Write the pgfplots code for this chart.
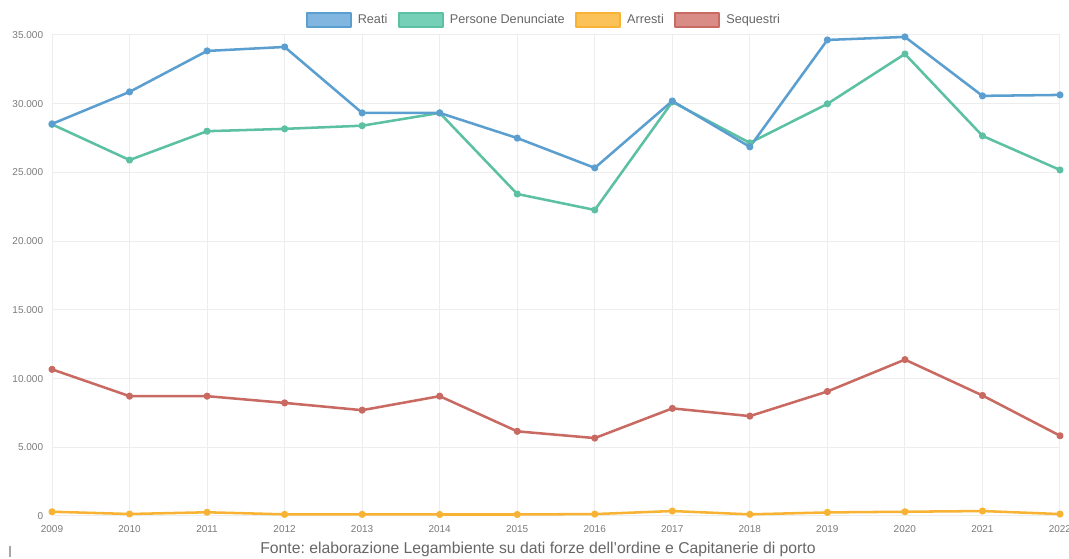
\documentclass[border=0pt]{standalone}
\usepackage{pgfplots}
\pgfplotsset{compat=1.18}
\usepackage{fontspec}
\setmainfont{Liberation Sans}
\frenchspacing

\definecolor{reatiLine}{HTML}{5A9FD0}
\definecolor{reatiFill}{HTML}{80B6E0}
\definecolor{persLine}{HTML}{5CC0A2}
\definecolor{persFill}{HTML}{76D0B8}
\definecolor{arrLine}{HTML}{F8B334}
\definecolor{arrFill}{HTML}{FCC25A}
\definecolor{seqLine}{HTML}{C96A62}
\definecolor{seqFill}{HTML}{D98C86}
\definecolor{gridc}{HTML}{EDEDED}
\definecolor{ticktxt}{HTML}{7A7A7A}
\definecolor{captxt}{HTML}{666666}

% Yearly series (2009-2022)
\newcommand{\reati}{(2009,28530) (2010,30860) (2011,33840) (2012,34130) (2013,29330) (2014,29330) (2015,27500) (2016,25330) (2017,30200) (2018,26860) (2019,34640) (2020,34860) (2021,30570) (2022,30640)}
\newcommand{\persone}{(2009,28500) (2010,25900) (2011,28000) (2012,28170) (2013,28400) (2014,29330) (2015,23430) (2016,22270) (2017,30130) (2018,27150) (2019,29990) (2020,33620) (2021,27660) (2022,25180)}
\newcommand{\arresti}{(2009,310) (2010,145) (2011,270) (2012,120) (2013,120) (2014,110) (2015,110) (2016,140) (2017,360) (2018,120) (2019,260) (2020,310) (2021,360) (2022,140)}
\newcommand{\sequestri}{(2009,10670) (2010,8720) (2011,8720) (2012,8230) (2013,7700) (2014,8720) (2015,6160) (2016,5670) (2017,7830) (2018,7270) (2019,9060) (2020,11380) (2021,8770) (2022,5840)}

\begin{document}
\begin{tikzpicture}
\path[use as bounding box] (0,0) rectangle (801.75pt,419.25pt);
\begin{axis}[
  at={(39pt,32.25pt)}, anchor=south west,
  scale only axis, width=756pt, height=360.75pt,
  xmin=2009, xmax=2022, ymin=0, ymax=35000,
  clip=false,
  xtick={2009,...,2022},
  ytick={0,5000,...,35000},
  scaled y ticks=false,
  /pgf/number format/assume math mode=true,
  yticklabel={\pgfmathprintnumber[1000 sep={.}]{\tick}},
  xticklabel={\pgfmathprintnumber[1000 sep={}]{\tick}},
  yticklabel style={inner sep=0pt, anchor=east, xshift=-6.5pt, font=\fontsize{7.5}{9}\selectfont, text=ticktxt},
  xticklabel style={inner sep=0pt, anchor=north, yshift=-7pt, font=\fontsize{7.5}{9}\selectfont, text=ticktxt},
  major tick length=0pt,
  grid=major, major grid style={gridc, line width=0.75pt},
  axis line style={draw=none},
  reverse legend,
  legend columns=4,
  legend style={at={(0.487,1)}, anchor=center, yshift=11.25pt,
    draw=none, fill=none, inner sep=0pt,
    font=\fontsize{9.5}{11}\selectfont, text=captxt,
    nodes={inner sep=0pt},
    /tikz/every odd column/.append style={column sep=4.5pt},
    /tikz/every even column/.append style={column sep=8pt}},
  every axis plot/.append style={line width=1.9pt, mark=*, mark size=1.7pt, line join=round},
]
\addplot[seqLine, mark options={fill=seqLine, draw=seqLine},
  legend image code/.code={\draw[fill=seqFill, draw=seqLine, line width=1.4pt] (0pt,-5pt) rectangle (33pt,5pt);}]
  coordinates {\sequestri};
\addlegendentry{Sequestri}
\addplot[arrLine, mark options={fill=arrLine, draw=arrLine},
  legend image code/.code={\draw[fill=arrFill, draw=arrLine, line width=1.4pt] (0pt,-5pt) rectangle (33pt,5pt);}]
  coordinates {\arresti};
\addlegendentry{Arresti}
\addplot[persLine, mark options={fill=persLine, draw=persLine},
  legend image code/.code={\draw[fill=persFill, draw=persLine, line width=1.4pt] (0pt,-5pt) rectangle (33pt,5pt);}]
  coordinates {\persone};
\addlegendentry{Persone Denunciate}
\addplot[reatiLine, mark options={fill=reatiLine, draw=reatiLine},
  legend image code/.code={\draw[fill=reatiFill, draw=reatiLine, line width=1.4pt] (0pt,-5pt) rectangle (33pt,5pt);}]
  coordinates {\reati};
\addlegendentry{Reati}
\end{axis}
\node[font=\fontsize{11.8}{13}\selectfont, text=captxt] at (403.5pt,7.5pt) {Fonte: elaborazione Legambiente su dati forze dell'ordine e Capitanerie di porto};
\draw[gray!70, line width=0.8pt] (7.5pt,1.5pt) -- (7.5pt,10pt);
\end{tikzpicture}
\end{document}
